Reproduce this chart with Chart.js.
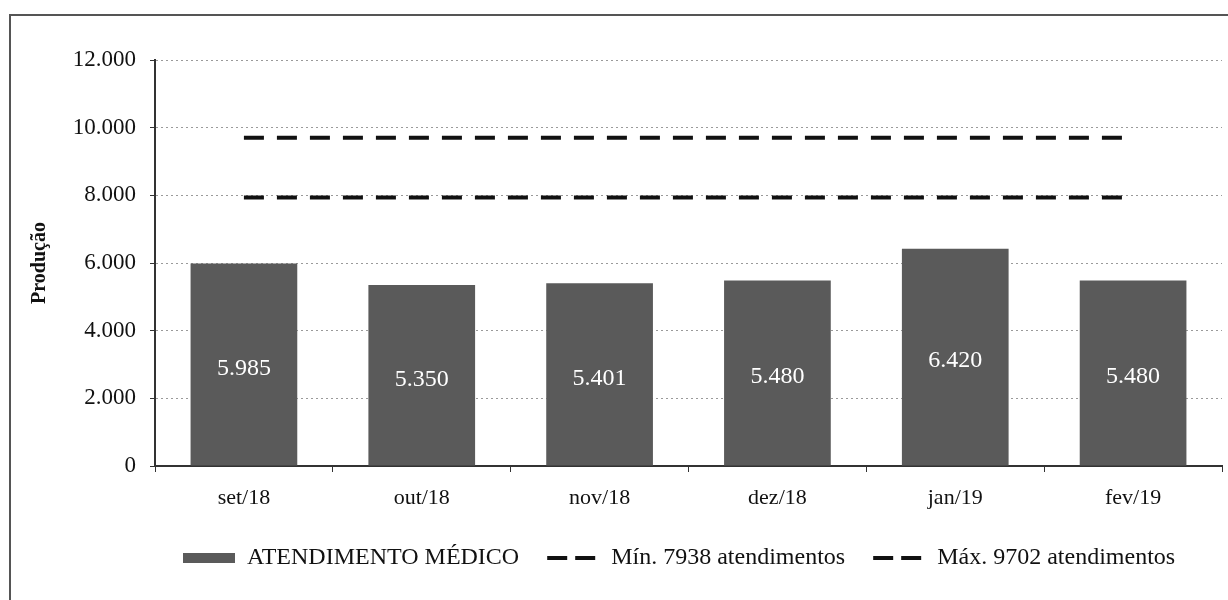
<!DOCTYPE html>
<html>
<head>
<meta charset="utf-8">
<script src="https://cdn.jsdelivr.net/npm/chart.js"></script>
<style>
    body { margin: 0; background: #fff; overflow: hidden; }
    #moldura {
        position: absolute; left: 9px; top: 14px; width: 1300px; height: 700px;
        border-left: 2px solid #555; border-top: 2px solid #555;
    }
    #grafico { position: absolute; left: 0; top: 0; }
</style>
</head>
<body>
<div id="moldura"></div>
<canvas id="grafico" width="1228" height="600"></canvas>
<script>
// dados do gráfico
var meses = ['set/18', 'out/18', 'nov/18', 'dez/18', 'jan/19', 'fev/19'];
var atendimentos = [5985, 5350, 5401, 5480, 6420, 5480];
var metaMinima = [7938, 7938, 7938, 7938, 7938, 7938];
var metaMaxima = [9702, 9702, 9702, 9702, 9702, 9702];
var ticksY = [0, 2000, 4000, 6000, 8000, 10000, 12000];

var fonte = '"Liberation Serif", "Times New Roman", serif';

// formata 5985 -> 5.985
function formatarNumero(v) {
    return v.toString().replace(/\B(?=(\d{3})+(?!\d))/g, '.');
}

// rótulos brancos dentro das barras
var rotulosBarras = {
    id: 'rotulosBarras',
    afterDatasetsDraw: function(chart) {
        var ctx = chart.ctx;
        var meta = chart.getDatasetMeta(0);
        ctx.save();
        ctx.font = '24px ' + fonte;
        ctx.fillStyle = '#ffffff';
        ctx.textAlign = 'center';
        ctx.textBaseline = 'middle';
        meta.data.forEach(function(bar, i) {
            var y = (bar.y + bar.base) / 2 + 4;
            ctx.fillText(formatarNumero(atendimentos[i]), bar.x, y);
        });
        ctx.restore();
    }
};

var ctx = document.getElementById('grafico').getContext('2d');
var chart = new Chart(ctx, {
    type: 'bar',
    data: {
        labels: meses,
        datasets: [
            {
                label: 'ATENDIMENTO MÉDICO',
                data: atendimentos,
                backgroundColor: '#5a5a5a',
                barPercentage: 0.6,
                categoryPercentage: 1.0
            },
            {
                type: 'line',
                label: 'Mín. 7938 atendimentos',
                data: metaMinima,
                borderColor: '#111111',
                borderWidth: 4,
                borderDash: [20, 13],
                pointRadius: 0,
                fill: false
            },
            {
                type: 'line',
                label: 'Máx. 9702 atendimentos',
                data: metaMaxima,
                borderColor: '#111111',
                borderWidth: 4,
                borderDash: [20, 13],
                pointRadius: 0,
                fill: false
            }
        ]
    },
    options: {
        responsive: false,
        animation: false,
        layout: { padding: { left: 20, right: 6, top: 60, bottom: 24 } },
        plugins: {
            tooltip: { enabled: false },
            legend: {
                position: 'bottom',
                align: 'start',
                fullSize: false,
                maxHeight: 58,
                labels: {
                    usePointStyle: true,
                    pointStyleWidth: 52,
                    boxHeight: 10,
                    padding: 28,
                    color: '#111',
                    font: { family: fonte, size: 24 },
                    generateLabels: function(chart) {
                        var itens = Chart.defaults.plugins.legend.labels.generateLabels(chart);
                        itens.forEach(function(item, i) {
                            if (i === 0) {
                                item.pointStyle = 'rect';
                                item.lineWidth = 0;
                                item.fillStyle = '#5a5a5a';
                            } else {
                                item.pointStyle = 'line';
                                item.lineWidth = 4;
                                item.strokeStyle = '#111';
                                item.lineDash = [20, 8, 20, 100];
                                item.lineDashOffset = 0;
                            }
                        });
                        return itens;
                    }
                }
            }
        },
        scales: {
            x: {
                afterFit: function(scale) { scale.height = 52; },
                grid: {
                    display: true,
                    drawOnChartArea: false,
                    drawTicks: true,
                    tickLength: 6,
                    offset: true,
                    color: '#333'
                },
                border: { color: '#333', width: 2 },
                ticks: {
                    color: '#111',
                    padding: 13,
                    font: { family: fonte, size: 22 }
                }
            },
            y: {
                min: 0,
                max: 12000,
                afterFit: function(scale) { scale.width = 135; },
                afterBuildTicks: function(scale) {
                    scale.ticks = ticksY.map(function(v) { return { value: v }; });
                },
                grid: {
                    color: '#9a9a9a',
                    lineWidth: 1,
                    drawTicks: true,
                    tickLength: 5,
                    tickColor: '#333'
                },
                border: { color: '#333', width: 2, dash: [2, 3] },
                ticks: {
                    color: '#111',
                    padding: 14,
                    font: { family: fonte, size: 23 },
                    callback: function(v) { return formatarNumero(v); }
                },
                title: {
                    display: true,
                    text: 'Produção',
                    color: '#111',
                    padding: 8,
                    font: { family: fonte, size: 20, weight: 'bold' }
                }
            }
        }
    },
    plugins: [rotulosBarras]
});
</script>
</body>
</html>
